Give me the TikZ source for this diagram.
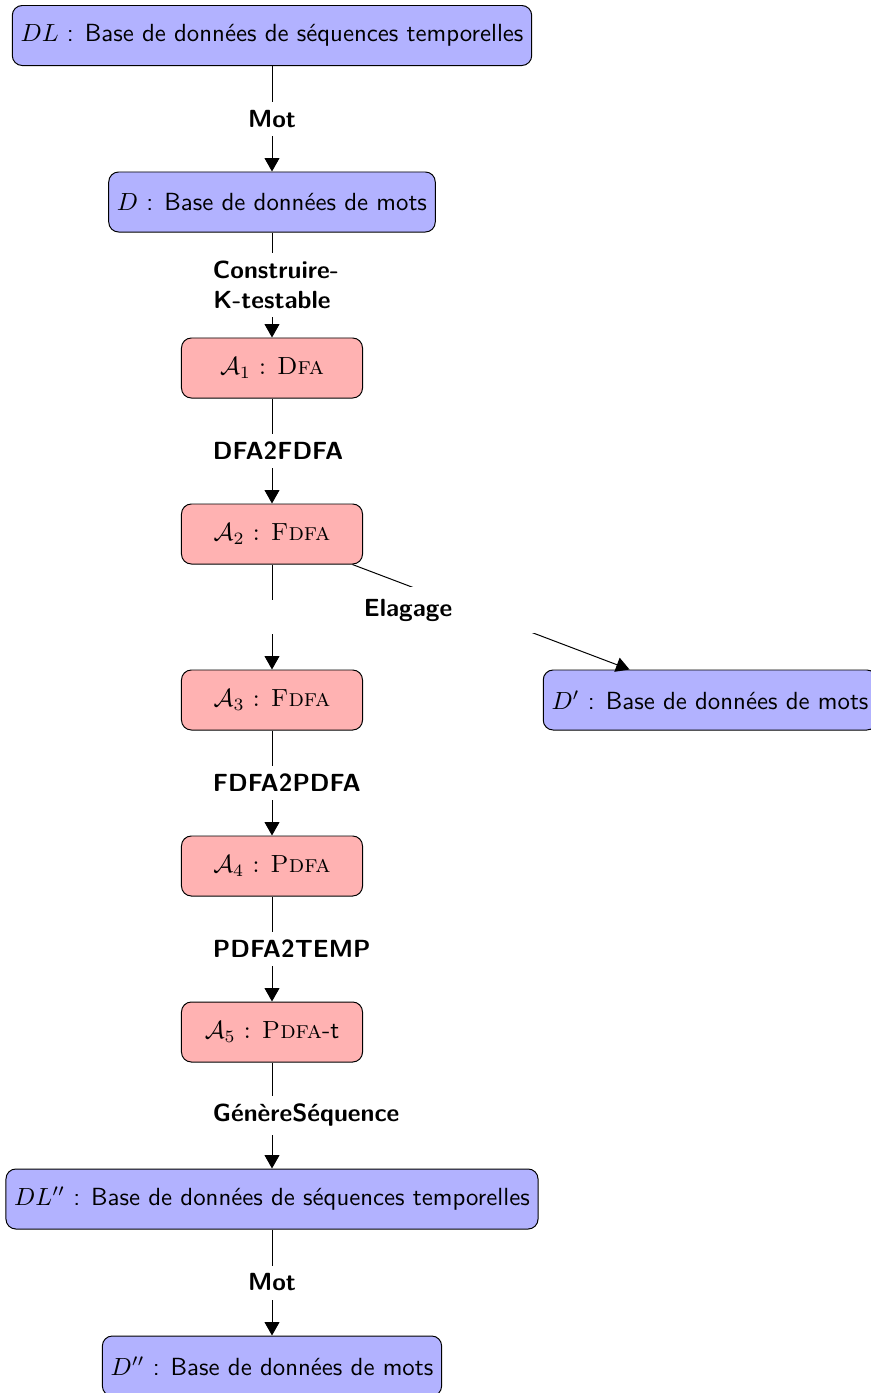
\documentclass[tikz,border=0pt]{standalone}
\usepackage{fontspec}
\usetikzlibrary{arrows.meta}
\begin{document}
\begin{tikzpicture}[x=0.4032pt,y=-0.4032pt,
  base/.style={draw=black, line width=0.4pt, rounded corners=4pt, minimum height=24.2pt, inner sep=3.33pt, font=\sffamily},
  bluebox/.style={base, fill=blue!30},
  redbox/.style={base, fill=red!30, minimum width=73pt, font=\rmfamily},
  arr/.style={line width=0.4pt, -{Triangle[length=5.4pt,width=6pt]}},
  lbl/.style={fill=white, text width=47.6pt, align=center, font=\sffamily\bfseries, midway},
  elag/.style={fill=white, text width=87.5pt, align=left, inner ysep=4.8pt, font=\sffamily\bfseries}]
\useasboundingbox (0,0) rectangle (871,1393);
\node[bluebox] (DL) at (272,35.5) {$DL$ : Base de données de séquences temporelles};
\node[bluebox] (D) at (272,202) {$D$ : Base de données de mots};
\node[redbox] (A1) at (272,368) {$\mathcal{A}_1$ : \textsc{Dfa}};
\node[redbox] (A2) at (272,534) {$\mathcal{A}_2$ : \textsc{Fdfa}};
\node[redbox] (A3) at (272,700) {$\mathcal{A}_3$ : \textsc{Fdfa}};
\node[redbox] (A4) at (272,866) {$\mathcal{A}_4$ : \textsc{Pdfa}};
\node[redbox] (A5) at (272,1032) {$\mathcal{A}_5$ : \textsc{Pdfa}{\sffamily -t}};
\node[bluebox] (DL2) at (272,1199) {$DL''$ : Base de données de séquences temporelles};
\node[bluebox] (D2) at (272,1366) {$D''$ : Base de données de mots};
\node[bluebox] (Dp) at (710,700) {$D'$ : Base de données de mots};
\draw[arr] (DL) -- node[lbl] {Mot} (D);
\draw[arr] (D) -- node[lbl] {Construire-K-testable} (A1);
\draw[arr] (A1) -- node[lbl] {DFA2FDFA} (A2);
\draw[arr] (A2) -- node[lbl] {\phantom{M}} (A3);
\draw[arr] (A2) -- node[elag, pos=0.433] {Elagage} (Dp);
\draw[arr] (A3) -- node[lbl] {FDFA2PDFA} (A4);
\draw[arr] (A4) -- node[lbl] {PDFA2TEMP} (A5);
\draw[arr] (A5) -- node[lbl] {GénèreSéquence} (DL2);
\draw[arr] (DL2) -- node[lbl] {Mot} (D2);
\end{tikzpicture}
\end{document}
